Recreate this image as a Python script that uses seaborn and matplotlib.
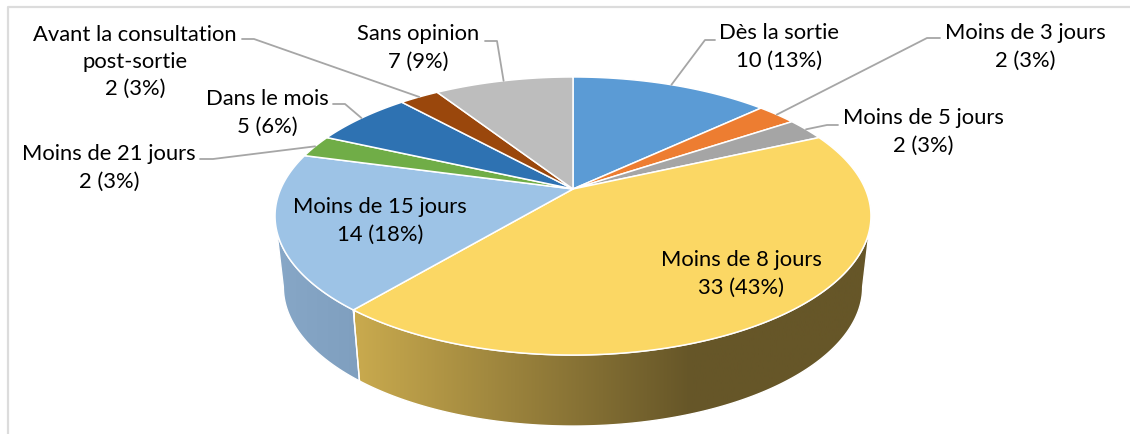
import numpy as np
import matplotlib.pyplot as plt
import seaborn as sns
from matplotlib.colors import LinearSegmentedColormap
from matplotlib.patches import Polygon

categories = ['Dès la sortie', 'Moins de 3 jours', 'Moins de 5 jours', 'Moins de 8 jours',
              'Moins de 15 jours', 'Moins de 21 jours', 'Dans le mois',
              'Avant la consultation\npost-sortie', 'Sans opinion']
values = [10, 2, 2, 33, 14, 2, 5, 2, 7]
slice_colors = ['#5B9BD5', '#ED7D31', '#A5A5A5', '#FBD764', '#9DC3E6',
                '#70AD47', '#2E72B2', '#9A470C', '#BDBDBD']

# label centres in pixels
label_x = [779, 1025, 923, 741, 380, 109, 267, 135, 418]
label_y = [47, 47, 132, 274, 221, 168, 113, 62, 48]
# leader line: start next to the label, then elbow, then slice rim
leader_start = [(715, 41), (940, 39), (838, 126), None, None, (200, 160), (333, 105), (242, 40), (485, 42)]
leader_elbow = [(705, 41), (927, 39), (827, 126), None, None, (213, 160), (345, 105), (254, 40), (497, 42)]

sns.set_theme(style='white')
plt.rcParams['font.family'] = ['Lato', 'DejaVu Sans']

# perspective of the pie top, in pixels
cx, cy = 573, 190
rx, ry, tilt = 292.3, 133.8, 0.1942
depth, shrink = 71, 0.972


def top_rim(deg):
    t = np.radians(deg)
    w = 1 + tilt * np.cos(t)
    return cx + rx * np.sin(t) / w, cy - ry * np.cos(t) / w


def low_rim(deg):
    x, y = top_rim(deg)
    return cx + shrink * (x - cx), y + depth


def wall(start, stop):
    t = np.linspace(start, stop, 200)
    xt, yt = top_rim(t)
    xl, yl = low_rim(t)
    return np.column_stack([np.r_[xt, xl[::-1]], np.r_[yt, yl[::-1]]])


def gradient_wall(start, stop, stops, x0, x1):
    poly = Polygon(wall(start, stop), closed=True, facecolor='none', edgecolor='none')
    ax.add_patch(poly)
    cmap = LinearSegmentedColormap.from_list('wall', stops)
    im = ax.imshow(np.linspace(0, 1, 256).reshape(1, -1), extent=[x0, x1, 435, 0], cmap=cmap,
                   aspect='auto', zorder=1)
    im.set_clip_path(poly)
    ax.add_patch(Polygon(wall(start, stop), closed=True, facecolor='none', edgecolor='white',
                         lw=1.0, zorder=2))


total = sum(values)
edges = np.r_[0, np.cumsum(values)] / total * 360
palette = sns.color_palette(slice_colors)
# where the rim is widest, the wall outline leaves the top there
widest = np.degrees(np.arccos(-tilt))

fig = plt.figure(figsize=(11.3, 4.35), dpi=100)
ax = fig.add_axes([0, 0, 1, 1])

# frame of the original chart, cut off at right and bottom
ax.plot([7.5, 7.5, 1130], [435, 7.5, 7.5], color='#DCDCDC', lw=1.6, zorder=0)

# side walls, only yellow and light blue can be seen
gradient_wall(max(edges[3], widest), edges[4],
              [(0, '#C9AA4E'), (0.64, '#665628'), (1, '#665628')], 355, 880)
gradient_wall(edges[4], min(edges[5], 360 - widest), [(0, '#87A7C7'), (1, '#7F9FBF')], 275, 360)

# top of the pie
for i in range(len(values)):
    t = np.linspace(edges[i], edges[i + 1], 150)
    xs, ys = top_rim(t)
    pts = np.column_stack([np.r_[cx, xs], np.r_[cy, ys]])
    ax.add_patch(Polygon(pts, closed=True, facecolor=palette[i], edgecolor='white',
                         lw=1.1, joinstyle='round', zorder=3))

# labels and leader lines
for i, name in enumerate(categories):
    pct = round(values[i] / total * 100)
    ax.text(label_x[i], label_y[i], f'{name}\n{values[i]} ({pct}%)', ha='center', va='center',
            fontsize=15.8, color='black', linespacing=1.45, zorder=5)
    if leader_start[i] is not None:
        rim = top_rim((edges[i] + edges[i + 1]) / 2)
        ax.plot([leader_start[i][0], leader_elbow[i][0], rim[0]],
                [leader_start[i][1], leader_elbow[i][1], rim[1]],
                color='#A6A6A6', lw=1.3, zorder=4, solid_joinstyle='round')

ax.set_xlim(0, 1130)
ax.set_ylim(435, 0)
ax.axis('off')
fig.savefig('out.png', dpi=100, facecolor='white')
